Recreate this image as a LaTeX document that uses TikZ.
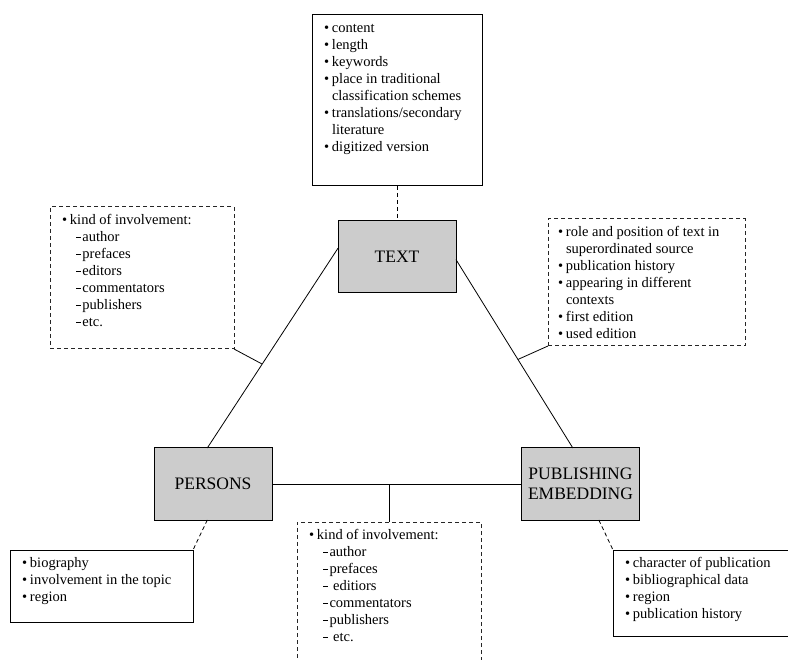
\documentclass[tikz,border=0pt]{standalone}
\usepackage{fontspec}
\setmainfont{Liberation Serif}
\usetikzlibrary{calc,positioning}
\newcommand{\bul}{\strut\makebox[8pt][l]{\textbullet}}
\newcommand{\cont}{\strut\hspace*{8pt}}
\newcommand{\dsh}{\strut\hspace*{14pt}\makebox[6.5pt][l]{\rule[3.6pt]{4.6pt}{0.7pt}}}
\newcommand{\notes}[3]{\begin{minipage}[t][#2][t]{#1}\raggedright #3\end{minipage}}
\tikzset{
  topic/.style = {rectangle, draw=black, fill=black!20, line width=1pt,
    outer sep=0pt, minimum width=118pt, minimum height=72pt, align=center,
    font=\fontsize{17.5}{19.5}\selectfont},% Hauptkategorie
  info_s/.style = {rectangle, draw=black, line width=1pt, outer sep=0pt,
    anchor=north west, inner xsep=12pt, inner ysep=6pt,
    font=\fontsize{14.5}{16.9}\selectfont},% Liste, durchgezogen
  info_d/.style = {info_s, draw=black!85, dash pattern=on 4pt off 3pt},% Liste, gestrichelt
  link/.style = {draw=black, line width=0.8pt},
  link_d/.style = {link, dash pattern=on 4pt off 3pt}
}

\begin{document}
\begin{tikzpicture}[x=1pt,y=-1pt]
  \clip (0,0) rectangle (788,660);
  % Kategorien
  \node [topic] (text) at (397,256.5) {TEXT};
  \node [topic] (persons) at (213,484) {PERSONS};
  \node [topic] (publ) at (580.5,484) {PUBLISHING\\EMBEDDING};
  % Listen
  \node [info_s] (textinfo) at (312,15) {\notes{146pt}{159pt}{%
      \bul content\\
      \bul length\\
      \bul keywords\\
      \bul place in traditional\\
      \cont classification schemes\\
      \bul translations/secondary\\
      \cont literature\\
      \bul digitized version}};
  \node [info_d] (involve) at (50,207) {\notes{160pt}{130pt}{%
      \bul kind of involvement:\\
      \dsh author\\
      \dsh prefaces\\
      \dsh editors\\
      \dsh commentators\\
      \dsh publishers\\
      \dsh etc.}};
  \node [info_d, inner xsep=10pt] (source) at (548,219) {\notes{177pt}{115pt}{%
      \bul role and position of text in\\
      \cont superordinated source\\
      \bul publication history\\
      \bul appearing in different\\
      \cont contexts\\
      \bul first edition\\
      \bul used edition}};
  \node [info_d] (involve2) at (297,522) {\notes{160pt}{146pt}{%
      \bul kind of involvement:\\
      \dsh author\\
      \dsh prefaces\\
      \dsh\ editiors\\
      \dsh commentators\\
      \dsh publishers\\
      \dsh\ etc.}};
  \node [info_s] (persinfo) at (10,550) {\notes{159pt}{60pt}{%
      \bul biography\\
      \bul involvement in the topic\\
      \bul region}};
  \node [info_s] (publinfo) at (613,550) {\notes{163pt}{74pt}{%
      \bul character of publication\\
      \bul bibliographical data\\
      \bul region\\
      \bul publication history}};
  % Dreieck
  \draw [link] (text.172) -- (persons.99);
  \draw [link] (text.-3) -- (publ.102);
  \draw [link] (persons.east) -- (publ.west);
  \coordinate (tp) at ($(text.172)!0.58!(persons.99)$);
  \coordinate (tq) at ($(text.-3)!0.53!(publ.102)$);
  \coordinate (pq) at (involve2.north |- persons.east);
  % Verbindungen zu den Listen
  \draw [link_d] (textinfo.south) -- (text.north);
  \draw [link] (involve.south east) -- (tp);
  \draw [link] (source.south west) -- (tq);
  \draw [link] (involve2.north) -- (pq);
  \draw [link_d] (persons.-99) -- (persinfo.north east);
  \draw [link_d] (publ.-63) -- (publinfo.north west);
\end{tikzpicture}
\end{document}
